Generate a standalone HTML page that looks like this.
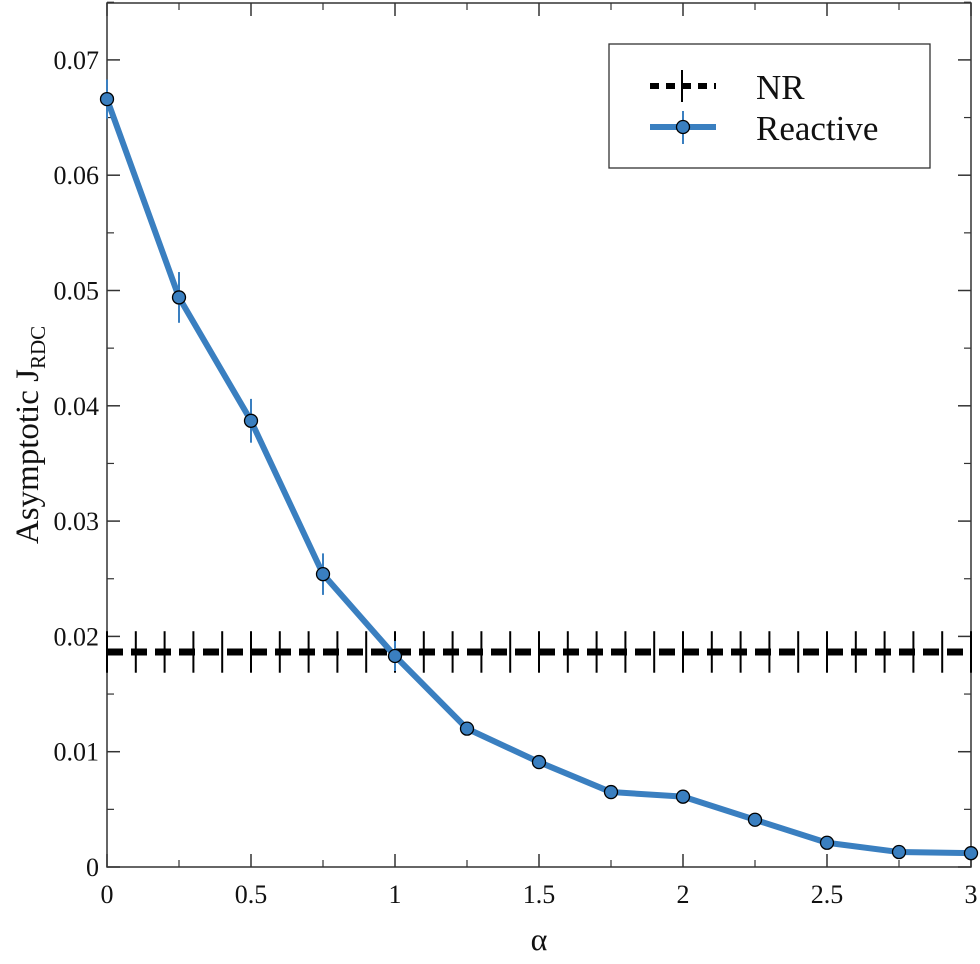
<!DOCTYPE html>
<html><head><meta charset="utf-8"><style>
body{margin:0;background:#fff;}
svg text{font-family:"Liberation Serif",serif;fill:#111;}
</style></head><body>
<svg id="chart" width="980" height="959" xmlns="http://www.w3.org/2000/svg">
</svg>
<script>
const alphas=[0,0.25,0.5,0.75,1,1.25,1.5,1.75,2,2.25,2.5,2.75,3];
const reactive=[0.0666,0.0494,0.0387,0.0254,0.0183,0.0120,0.0091,0.0065,0.0061,0.0041,0.0021,0.0013,0.0012];
const reactiveErr=[0.0017,0.0022,0.0019,0.0018,0.0013,0,0,0,0,0,0,0,0];
const nrValue=0.01865;
const nrErr=0.0018;
const xTicks=[0,0.5,1,1.5,2,2.5,3];
const xTickLabels=["0","0.5","1","1.5","2","2.5","3"];
const yTicks=[0,0.01,0.02,0.03,0.04,0.05,0.06,0.07];
const yTickLabels=["0","0.01","0.02","0.03","0.04","0.05","0.06","0.07"];
const L=107,R=971,T=3,B=867;
const X=v=>L+(v/3)*(R-L);
const Y=v=>B-v*11530;
const svg=document.getElementById('chart');
const NS='http://www.w3.org/2000/svg';
function mk(tag,attrs,parent){const e=document.createElementNS(NS,tag);for(const k in attrs)e.setAttribute(k,attrs[k]);(parent||svg).appendChild(e);return e;}
const fr=mk('rect',{x:L,y:T,width:R-L,height:B-T,fill:'none',stroke:'#333','stroke-width':1.5});


xTicks.forEach((v,i)=>{
 mk('line',{x1:X(v),x2:X(v),y1:B,y2:B-13,stroke:'#333','stroke-width':1.5});
 mk('line',{x1:X(v),x2:X(v),y1:T,y2:T+13,stroke:'#333','stroke-width':1.5});
 if(i<xTicks.length-1){const m=v+0.25;
  mk('line',{x1:X(m),x2:X(m),y1:B,y2:B-7,stroke:'#333','stroke-width':1.2});
  mk('line',{x1:X(m),x2:X(m),y1:T,y2:T+7,stroke:'#333','stroke-width':1.2});}
 const t=mk('text',{x:X(v),y:B+36,'font-size':26,'text-anchor':'middle'});t.textContent=xTickLabels[i];
 
 
});
yTicks.forEach((v,i)=>{
 mk('line',{x1:L,x2:L+13,y1:Y(v),y2:Y(v),stroke:'#333','stroke-width':1.5});
 mk('line',{x1:R,x2:R-13,y1:Y(v),y2:Y(v),stroke:'#333','stroke-width':1.5});
 const m=v+0.005;
 mk('line',{x1:L,x2:L+7,y1:Y(m),y2:Y(m),stroke:'#333','stroke-width':1.2});
 mk('line',{x1:R,x2:R-7,y1:Y(m),y2:Y(m),stroke:'#333','stroke-width':1.2});
 const t=mk('text',{x:L-8,y:Y(v)+9,'font-size':26,'text-anchor':'end'});t.textContent=yTickLabels[i];
 
 
});
const nr=mk('g',{});


mk('line',{x1:L,x2:R,y1:Y(nrValue),y2:Y(nrValue),stroke:'#000','stroke-width':7,'stroke-dasharray':'16 8'},nr);
for(let a=0;a<=3.0001;a+=0.1){
 mk('line',{x1:X(a),x2:X(a),y1:Y(nrValue+nrErr),y2:Y(nrValue-nrErr),stroke:'#000','stroke-width':2},nr);
}
const rg=mk('g',{});


mk('polyline',{points:alphas.map((a,i)=>X(a)+','+Y(reactive[i])).join(' '),fill:'none',stroke:'#3a7fc0','stroke-width':6,'stroke-linejoin':'round'},rg);
alphas.forEach((a,i)=>{
 if(reactiveErr[i]>0) mk('line',{x1:X(a),x2:X(a),y1:Y(reactive[i]+reactiveErr[i]),y2:Y(reactive[i]-reactiveErr[i]),stroke:'#3a7fc0','stroke-width':2},rg);
 const c=mk('circle',{cx:X(a),cy:Y(reactive[i]),r:6.5,fill:'#3a7fc0',stroke:'#000','stroke-width':1.3},rg);
 
 
});
const lg=mk('g',{});


mk('rect',{x:609,y:44,width:321,height:124,fill:'#fff',stroke:'#333','stroke-width':1.3},lg);
mk('line',{x1:650,x2:716,y1:86,y2:86,stroke:'#000','stroke-width':6,'stroke-dasharray':'9 7'},lg);
mk('line',{x1:682,x2:682,y1:70,y2:102,stroke:'#000','stroke-width':2},lg);
mk('line',{x1:650,x2:716,y1:127,y2:127,stroke:'#3a7fc0','stroke-width':6},lg);
mk('line',{x1:683,x2:683,y1:111,y2:144,stroke:'#3a7fc0','stroke-width':2},lg);
mk('circle',{cx:683,cy:127,r:6.5,fill:'#3a7fc0',stroke:'#000','stroke-width':1.3},lg);
const t1=mk('text',{x:756,y:99,'font-size':35},lg);t1.textContent='NR';


const t2=mk('text',{x:756,y:140,'font-size':35},lg);t2.textContent='Reactive';


const xt=mk('text',{x:539,y:950,'font-size':32,'text-anchor':'middle'});xt.textContent='α';


const yt=mk('text',{transform:'translate(38,435) rotate(-90)','font-size':33,'text-anchor':'middle'});
yt.innerHTML='Asymptotic J<tspan font-size="21" dy="7">RDC</tspan>';


</script>
</body></html>
